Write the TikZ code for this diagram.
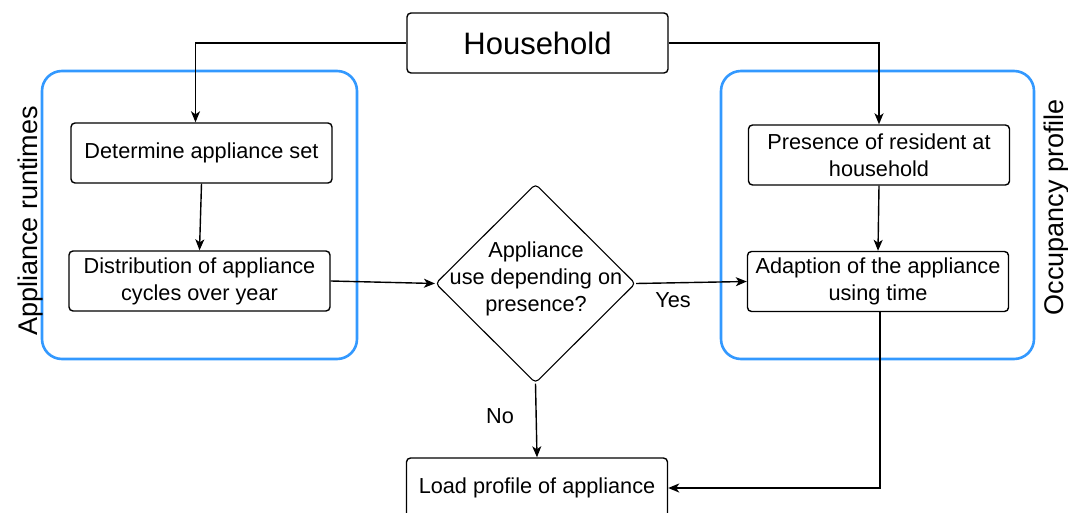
\documentclass[tikz,border=0pt]{standalone}
\usepackage{fontspec}
\setmainfont{Liberation Sans}
\usetikzlibrary{shapes.geometric,arrows.meta}
\definecolor{groupblue}{RGB}{51,153,255}
\tikzset{
  boxtext/.style={font=\fontsize{21.7pt}{27pt}\selectfont},
  stepbox/.style={draw, line width=1.4pt, rounded corners=4pt, minimum width=261pt,
    minimum height=60pt, inner sep=0pt, align=center, boxtext},
  decision/.style={draw, shape=diamond, line width=1.1pt, rounded corners=4pt,
    minimum width=200pt, minimum height=199pt, inner sep=0pt},
  group/.style={draw=groupblue, line width=2.6pt, rounded corners=20pt},
  grouplabel/.style={rotate=90, anchor=base, font=\fontsize{27pt}{32pt}\selectfont},
  arr/.style={line width=1.4pt, -{Stealth[length=11pt, width=9pt, inset=3pt]}},
  edgelabel/.style={boxtext}
}
\begin{document}
\begin{tikzpicture}[x=1pt, y=-1pt]
\useasboundingbox (0,0) rectangle (1068,513);
\clip (0,0) rectangle (1068,513);
\fill[white] (0,0) rectangle (1068,513);

% groups
\draw[group] (42,71) rectangle (357,359);
\draw[group] (721,71) rectangle (1034,359);
\node[grouplabel] (lblrun) at (37,221) {Appliance runtimes};
\node[grouplabel] (lblocc) at (1063.5,207) {Occupancy profile};

% steps
\node[stepbox, font=\fontsize{31pt}{37pt}\selectfont] (hh) at (537.5,43) {Household};
\node[stepbox] (det) at (201.5,153) {Determine appliance set};
\node[stepbox] (dist) at (199.5,281) {Distribution of appliance\\cycles over year};
\node[decision] (dec) at (535.5,283.5) {};
\node[boxtext, align=center, inner sep=0pt] (dectext) at (536,278.5) {Appliance\\use depending on\\presence?};
\node[stepbox] (pres) at (879,155) {Presence of resident at\\household};
\node[stepbox] (adapt) at (878,281.5) {Adaption of the appliance\\using time};
\node[stepbox] (load) at (537,488) {Load profile of appliance};

% connectors
\draw[arr] (hh.west) -| ([xshift=-6pt]det.north);
\draw[arr] (hh.east) -| (pres.north);
\draw[arr] (det.south) -- (dist.north);
\draw[arr] (dist.east) -- (dec.west);
\draw[arr] (dec.east) -- (adapt.west);
\draw[arr] (dec.south) -- (load.north);
\draw[arr] (pres.south) -- (adapt.north);
\draw[arr] ([xshift=2pt]adapt.south) |- (load.east);

% branch labels
\node[edgelabel] (yes) at (673,300) {Yes};
\node[edgelabel] (no) at (500,416) {No};
\end{tikzpicture}
\end{document}
